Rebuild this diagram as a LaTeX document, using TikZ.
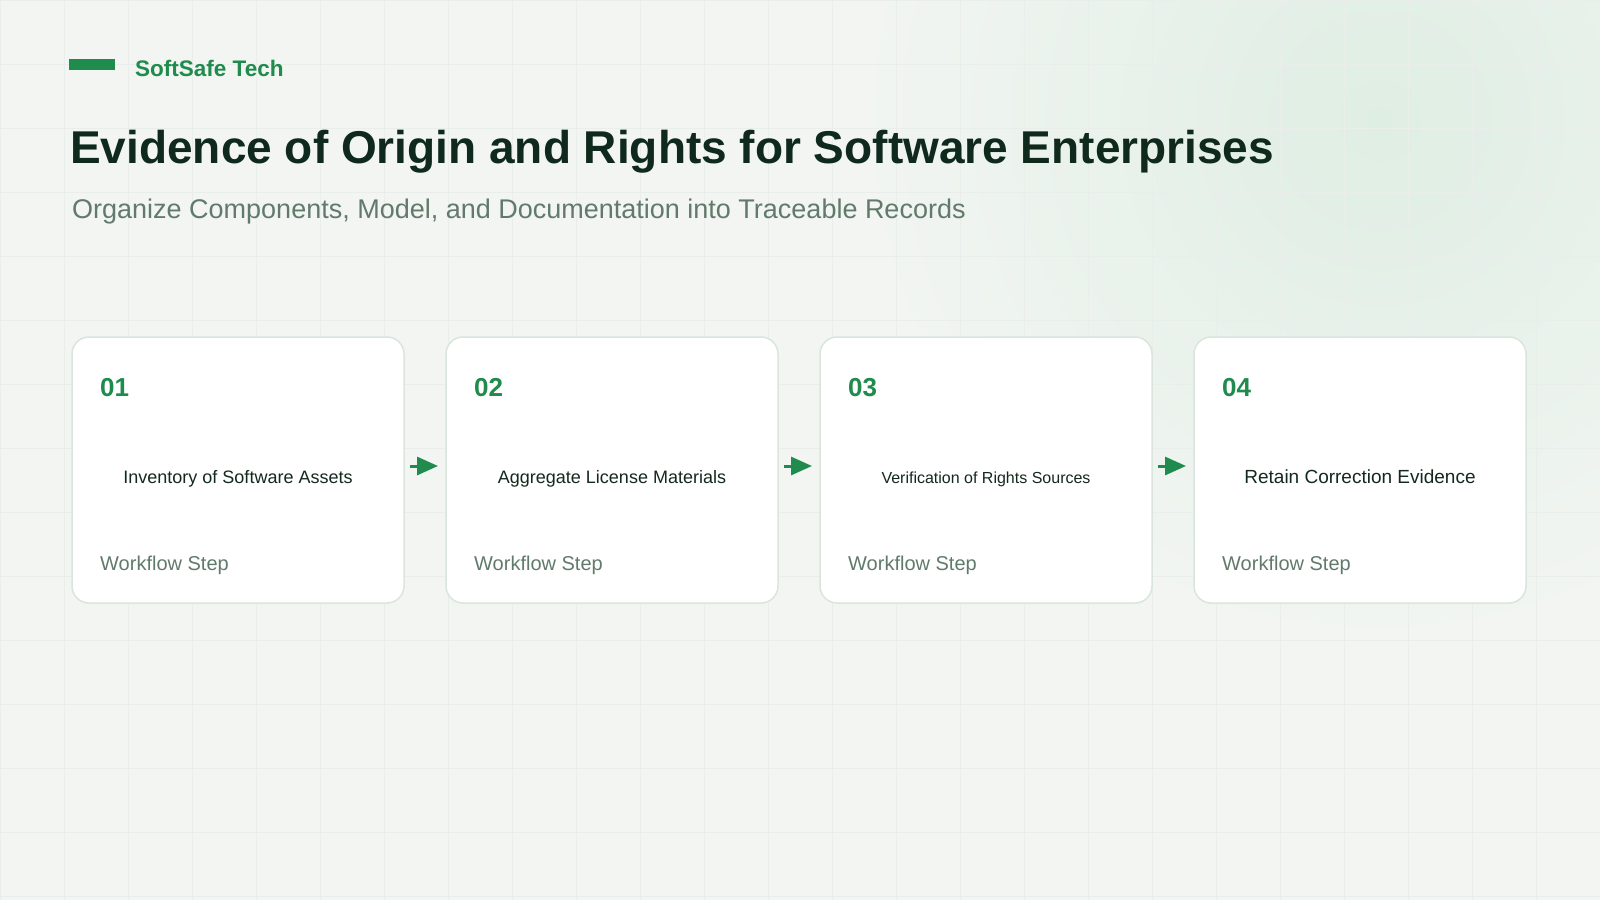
\documentclass[tikz,border=0pt]{standalone}
\usepackage{fontspec}
\setmainfont{Liberation Sans}
\usetikzlibrary{arrows.meta,positioning}
\definecolor{bgcol}{HTML}{F2F5F2}
\definecolor{glowgreen}{HTML}{DFEEE3}
\definecolor{gridline}{HTML}{E9EEEA}
\definecolor{brandgreen}{HTML}{1F8B4C}
\definecolor{titleink}{HTML}{0F2A1D}
\definecolor{mutedink}{HTML}{627A6B}
\definecolor{cardink}{HTML}{14291D}
\definecolor{cardline}{HTML}{D9E5DD}

\begin{document}
\begin{tikzpicture}[x=1pt,y=-1pt,
  card/.style={draw=cardline,line width=1.5pt,fill=white,rounded corners=17pt,
               minimum width=332pt,minimum height=266pt,inner sep=0pt,outer sep=0pt},
  stepnum/.style={anchor=base west,inner sep=0pt,text=brandgreen,
                  font=\fontsize{26}{30}\selectfont\bfseries},
  steptext/.style={anchor=base,inner sep=0pt,text=cardink},
  steplabel/.style={anchor=base west,inner sep=0pt,text=mutedink,
                    font=\fontsize{20}{24}\selectfont},
  flow/.style={draw=brandgreen,line width=3pt,-{Triangle[length=21pt,width=18pt]},
               shorten <=6pt,shorten >=8pt}]
%
  \useasboundingbox (0,0) rectangle (1600,900);
  \fill[bgcol] (0,0) rectangle (1600,900);
  \begin{scope}
    \clip (0,0) rectangle (1600,900);
    \shade[inner color=glowgreen,outer color=bgcol] (1380,120) circle (520);
    \draw[gridline,line width=0.7pt] (0,0) grid[step=64pt] (1600,900);
  \end{scope}
%
  \node (bar) [fill=brandgreen,anchor=north west,inner sep=0pt,
               minimum width=46pt,minimum height=11pt] at (69,59) {} ;
  \node (brand) [anchor=base west,inner sep=0pt,text=brandgreen,
                 font=\fontsize{22.5}{26}\selectfont\bfseries] at (135,76) {SoftSafe Tech} ;
%
  \node (title) [anchor=base west,inner sep=0pt,text=titleink,
                 font=\fontsize{46}{54}\selectfont\bfseries] at (70,163)
        {Evidence of Origin and Rights for Software Enterprises} ;
  \node (subtitle) [anchor=base west,inner sep=0pt,text=mutedink,
                    font=\fontsize{27}{32}\selectfont] at (72,218)
        {Organize Components, Model, and Documentation into Traceable Records} ;
%
  \node (s1) [card] at (238,470) {} ;
  \node (s2) [card,right=42pt of s1] {} ;
  \node (s3) [card,right=42pt of s2] {} ;
  \node (s4) [card,right=42pt of s3] {} ;
%
  \node (n1) [stepnum] at ([xshift=28pt,yshift=-59pt]s1.north west) {01} ;
  \node (n2) [stepnum] at ([xshift=28pt,yshift=-59pt]s2.north west) {02} ;
  \node (n3) [stepnum] at ([xshift=28pt,yshift=-59pt]s3.north west) {03} ;
  \node (n4) [stepnum] at ([xshift=28pt,yshift=-59pt]s4.north west) {04} ;
%
  \node (t1) [steptext,font=\fontsize{18}{22}\selectfont] at ([yshift=-13pt]s1.center)
        {Inventory of Software Assets} ;
  \node (t2) [steptext,font=\fontsize{18}{22}\selectfont] at ([yshift=-13pt]s2.center)
        {Aggregate License Materials} ;
  \node (t3) [steptext,font=\fontsize{16}{20}\selectfont] at ([yshift=-13pt]s3.center)
        {Verification of Rights Sources} ;
  \node (t4) [steptext,font=\fontsize{19}{23}\selectfont] at ([yshift=-13pt]s4.center)
        {Retain Correction Evidence} ;
%
  \node (w1) [steplabel] at ([xshift=28pt,yshift=33pt]s1.south west) {Workflow Step} ;
  \node (w2) [steplabel] at ([xshift=28pt,yshift=33pt]s2.south west) {Workflow Step} ;
  \node (w3) [steplabel] at ([xshift=28pt,yshift=33pt]s3.south west) {Workflow Step} ;
  \node (w4) [steplabel] at ([xshift=28pt,yshift=33pt]s4.south west) {Workflow Step} ;
%
  \draw [flow] ([yshift=4pt]s1.east) -- ([yshift=4pt]s2.west) ;
  \draw [flow] ([yshift=4pt]s2.east) -- ([yshift=4pt]s3.west) ;
  \draw [flow] ([yshift=4pt]s3.east) -- ([yshift=4pt]s4.west) ;
%
\end{tikzpicture}
\end{document}
